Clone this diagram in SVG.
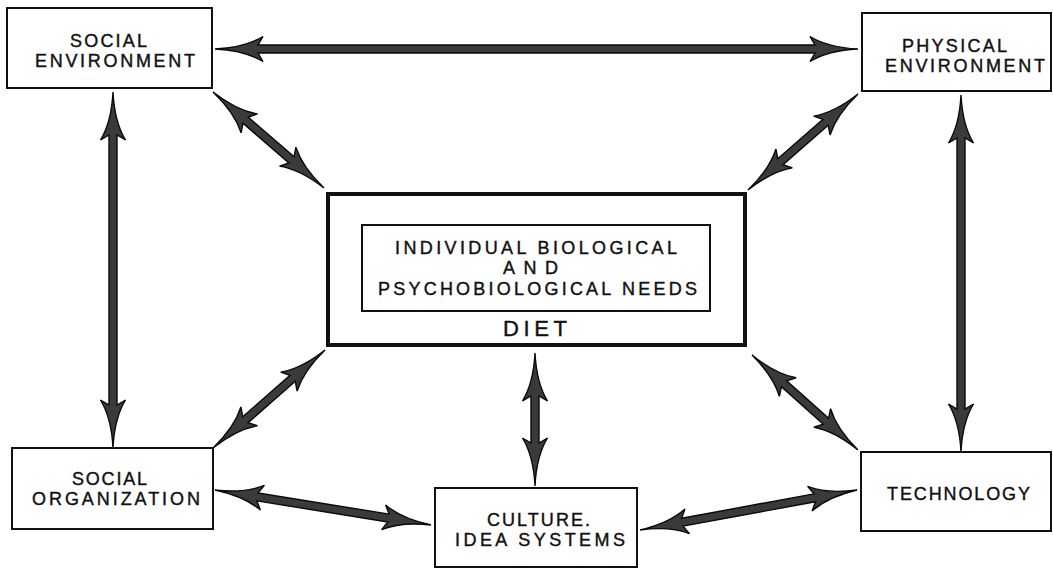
<svg xmlns="http://www.w3.org/2000/svg" width="1053" height="569" viewBox="0 0 1053 569">
<style>
.box{fill:#fff;stroke:#111;stroke-width:2}
.outer{fill:#fff;stroke:#111;stroke-width:4}
.lbl{font-family:"Liberation Sans",Arial,sans-serif;font-size:18px;fill:#111;stroke:#111;stroke-width:0.4;text-anchor:middle}
.diet{font-size:22px}
.arr{fill:#3a3a3a;stroke:#0a0a0a;stroke-width:1.4;stroke-linejoin:miter}
</style>
<rect width="1053" height="569" fill="#fff"/>
<g id="connectors">
<path class="arr" transform="translate(215,49)" d="M0,0 Q30,1.5 48,12.5 L43,4 L600,4 L595,12.5 Q613,1.5 643,0 Q613,-1.5 595,-12.5 L600,-4 L43,-4 L48,-12.5 Q30,-1.5 0,0Z"/>
<path class="arr" transform="translate(213,92) rotate(40.86)" d="M0,0 Q30,1.5 48,12.5 L43,4 L103.8,4 L98.8,12.5 Q116.8,1.5 146.8,0 Q116.8,-1.5 98.8,-12.5 L103.8,-4 L43,-4 L48,-12.5 Q30,-1.5 0,0Z"/>
<path class="arr" transform="translate(858,94) rotate(138.89)" d="M0,0 Q30,1.5 48,12.5 L43,4 L103,4 L98,12.5 Q116,1.5 146,0 Q116,-1.5 98,-12.5 L103,-4 L43,-4 L48,-12.5 Q30,-1.5 0,0Z"/>
<path class="arr" transform="translate(113,92) rotate(90)" d="M0,0 Q30,1.5 48,12.5 L43,4 L313,4 L308,12.5 Q326,1.5 356,0 Q326,-1.5 308,-12.5 L313,-4 L43,-4 L48,-12.5 Q30,-1.5 0,0Z"/>
<path class="arr" transform="translate(961,95) rotate(90)" d="M0,0 Q30,1.5 48,12.5 L43,4 L314,4 L309,12.5 Q327,1.5 357,0 Q327,-1.5 309,-12.5 L314,-4 L43,-4 L48,-12.5 Q30,-1.5 0,0Z"/>
<path class="arr" transform="translate(325,350) rotate(138.81)" d="M0,0 Q30,1.5 48,12.5 L43,4 L105.8,4 L100.8,12.5 Q118.8,1.5 148.8,0 Q118.8,-1.5 100.8,-12.5 L105.8,-4 L43,-4 L48,-12.5 Q30,-1.5 0,0Z"/>
<path class="arr" transform="translate(535,353) rotate(90)" d="M0,0 Q30,1.5 48,12.5 L43,4 L90,4 L85,12.5 Q103,1.5 133,0 Q103,-1.5 85,-12.5 L90,-4 L43,-4 L48,-12.5 Q30,-1.5 0,0Z"/>
<path class="arr" transform="translate(752,355) rotate(41.87)" d="M0,0 Q30,1.5 48,12.5 L43,4 L99.3,4 L94.3,12.5 Q112.3,1.5 142.3,0 Q112.3,-1.5 94.3,-12.5 L99.3,-4 L43,-4 L48,-12.5 Q30,-1.5 0,0Z"/>
<path class="arr" transform="translate(215,490) rotate(9.2)" d="M0,0 Q30,1.5 48,12.5 L43,4 L175.8,4 L170.8,12.5 Q188.8,1.5 218.8,0 Q188.8,-1.5 170.8,-12.5 L175.8,-4 L43,-4 L48,-12.5 Q30,-1.5 0,0Z"/>
<path class="arr" transform="translate(640,530) rotate(-10.44)" d="M0,0 Q30,1.5 48,12.5 L43,4 L177.7,4 L172.7,12.5 Q190.7,1.5 220.7,0 Q190.7,-1.5 172.7,-12.5 L177.7,-4 L43,-4 L48,-12.5 Q30,-1.5 0,0Z"/>
</g>
<g id="social-environment">
<rect class="box" x="7" y="8" width="205" height="80"/>
<text class="lbl" x="108.5" y="46.5" textLength="77" lengthAdjust="spacing">SOCIAL</text>
<text class="lbl" x="115" y="67" textLength="160" lengthAdjust="spacing">ENVIRONMENT</text>
</g>
<g id="physical-environment">
<rect class="box" x="862" y="13" width="189" height="78"/>
<text class="lbl" x="954.5" y="51.5" textLength="105" lengthAdjust="spacing">PHYSICAL</text>
<text class="lbl" x="965" y="72" textLength="160" lengthAdjust="spacing">ENVIRONMENT</text>
</g>
<g id="diet">
<rect class="outer" x="328" y="194" width="417" height="151"/>
<rect class="box" x="362" y="225" width="348" height="86"/>
<text class="lbl" x="536" y="254" textLength="282" lengthAdjust="spacing">INDIVIDUAL BIOLOGICAL</text>
<text class="lbl" x="530.5" y="274" textLength="55" lengthAdjust="spacing">AND</text>
<text class="lbl" x="537.5" y="294.5" textLength="319" lengthAdjust="spacing">PSYCHOBIOLOGICAL NEEDS</text>
<text class="lbl diet" x="535" y="336" textLength="64" lengthAdjust="spacing">DIET</text>
</g>
<g id="social-organization">
<rect class="box" x="12" y="448" width="201" height="81"/>
<text class="lbl" x="109.5" y="484.5" textLength="75" lengthAdjust="spacing">SOCIAL</text>
<text class="lbl" x="116" y="505" textLength="168" lengthAdjust="spacing">ORGANIZATION</text>
</g>
<g id="culture">
<rect class="box" x="435" y="488" width="202" height="79"/>
<text class="lbl" x="538.5" y="525.5" textLength="103" lengthAdjust="spacing">CULTURE.</text>
<text class="lbl" x="540" y="546" textLength="170" lengthAdjust="spacing">IDEA SYSTEMS</text>
</g>
<g id="technology">
<rect class="box" x="861" y="452" width="190" height="79"/>
<text class="lbl" x="958.5" y="500" textLength="143" lengthAdjust="spacing">TECHNOLOGY</text>
</g>
</svg>
